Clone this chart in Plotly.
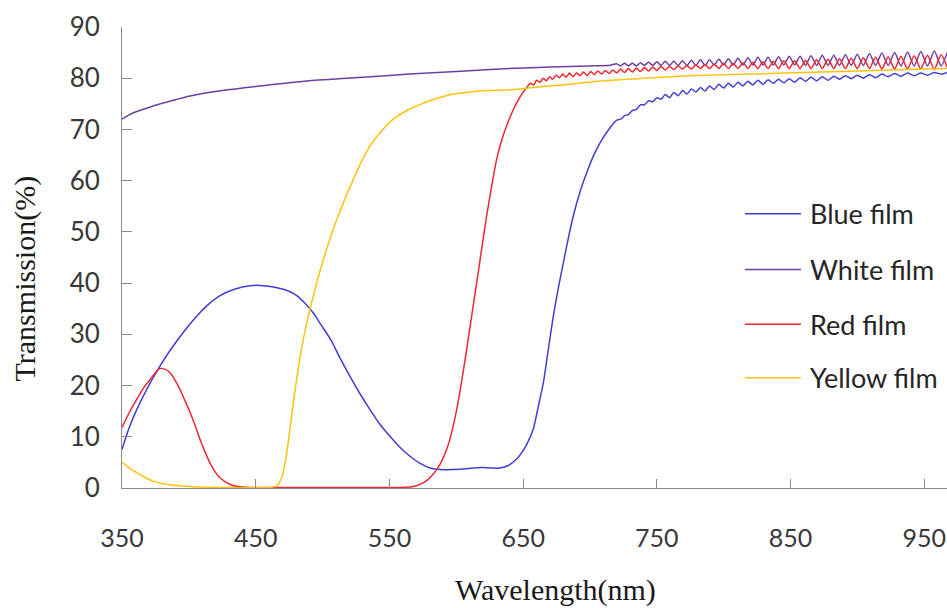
import plotly.graph_objects as go

# ---------------- data ----------------
# shared wavelength grid of the interference-fringe region (nm)
fringe_nm = [720.0, 722.9, 725.8, 728.7, 731.7, 734.7, 737.7, 740.7, 743.8, 746.9,
             750.0, 753.1, 756.3, 759.5, 762.7, 765.9, 769.2, 772.5, 775.8, 779.2,
             782.6, 786.0, 789.4, 792.9, 796.4, 799.9, 803.5, 807.1, 810.7, 814.4,
             818.1, 821.8, 825.6, 829.4, 833.2, 837.1, 841.0, 845.0, 849.0, 853.0,
             857.1, 861.2, 865.3, 869.5, 873.7, 878.0, 882.3, 886.6, 891.0, 895.4,
             899.9, 904.4, 909.0, 913.6, 918.3, 923.0, 927.8, 932.6, 937.5, 942.4,
             947.4, 952.4, 957.5, 962.6, 967.8]

# Blue film
blue_head_nm = [350, 355, 361, 370, 378.4, 385, 391, 398, 406, 414,
                423, 434, 446, 456, 466, 474, 481, 487, 493, 499,
                506, 513, 520.5, 528, 535.5, 543, 550.4, 558, 565.4, 573,
                580.4, 588, 598, 608, 615, 620, 626, 632.7, 639, 645,
                649, 652.7, 657.6, 661, 665.1, 668.8, 672.6, 676.3, 680.1, 683.8,
                687.5, 692.5, 697.6, 702.5, 707.5, 713.5]
blue_head_T = [7.5, 11.5, 15.3, 20.0, 23.8, 26.5, 28.7, 31.1, 33.6, 35.7,
               37.5, 38.8, 39.5, 39.5, 39.1, 38.5, 37.5, 36.0, 34.2, 31.8,
               29.0, 25.4, 21.8, 18.4, 15.3, 12.4, 10.1, 7.9, 6.2, 4.8,
               3.9, 3.6, 3.6, 3.75, 3.95, 4.0, 3.9, 3.9, 4.4, 5.6,
               6.9, 8.5, 11.5, 15.5, 20.5, 27.0, 33.6, 39.0, 44.0, 48.8,
               53.1, 57.8, 61.6, 64.8, 67.4, 69.8]
blue_tail_T = [71.8, 72.0, 72.7, 72.9, 73.7, 73.9, 74.8, 74.8, 75.6, 75.4,
               76.2, 75.9, 76.8, 76.2, 77.2, 76.6, 77.6, 76.9, 77.9, 77.3,
               78.2, 77.5, 78.5, 77.8, 78.8, 78.1, 79.0, 78.3, 79.2, 78.5,
               79.4, 78.7, 79.6, 78.8, 79.7, 79.0, 79.8, 79.1, 79.9, 79.2,
               80.1, 79.4, 80.2, 79.5, 80.3, 79.6, 80.4, 79.8, 80.5, 79.9,
               80.6, 80.0, 80.7, 80.1, 80.8, 80.3, 80.9, 80.4, 81.0, 80.5,
               81.0, 80.6, 81.1, 80.8, 81.2]

# White film
white_head_nm = [350, 355, 360, 370, 380, 390, 400, 425, 450, 490,
                 530, 565, 600, 632, 670, 700, 715]
white_head_T = [72.0, 72.8, 73.4, 74.3, 75.1, 75.8, 76.5, 77.6, 78.4, 79.5,
                80.2, 80.8, 81.3, 81.8, 82.2, 82.4, 82.55]
white_tail_T = [82.8, 82.4, 82.9, 82.4, 82.9, 82.4, 83.0, 82.5, 83.1, 82.5,
                83.2, 82.5, 83.3, 82.5, 83.3, 82.5, 83.4, 82.5, 83.5, 82.5,
                83.6, 82.5, 83.6, 82.6, 83.7, 82.6, 83.8, 82.6, 83.9, 82.6,
                84.0, 82.6, 84.1, 82.6, 84.1, 82.6, 84.2, 82.6, 84.3, 82.6,
                84.3, 82.5, 84.4, 82.5, 84.5, 82.5, 84.5, 82.5, 84.6, 82.5,
                84.7, 82.5, 84.8, 82.5, 84.9, 82.5, 85.0, 82.4, 85.1, 82.4,
                85.2, 82.4, 85.3, 82.4, 85.4]

# Red film
red_head_nm = [350, 355, 361, 366, 371, 378, 382, 386, 390, 393.4,
               397, 401, 405, 408.3, 412, 415.8, 419.5, 423.3, 428, 433,
               440, 446, 480, 520, 550, 562, 568, 573, 578, 582,
               585.4, 589, 592.8, 596.5,
               600.3, 604, 607.8, 611.5, 615.3, 619, 622.7, 626.5, 630.2, 634,
               637.7, 641.5, 645.2, 649, 652.7,
               655.5, 657.8, 660.1, 662.5, 664.9, 667.3, 669.7, 672.1, 674.6, 677.1,
               679.6, 682.1, 684.7, 687.3, 689.9, 692.5, 695.1, 697.8, 700.5, 703.2,
               705.9, 708.7, 711.5, 714.3, 717.1]
red_head_T = [11.8, 14.5, 17.3, 19.5, 21.2, 23.3, 23.2, 22.5, 20.9, 19.2,
              17.1, 14.7, 12.0, 9.5, 7.1, 4.9, 3.2, 2.0, 1.1, 0.5,
              0.2, 0.1, 0.1, 0.1, 0.1, 0.15, 0.3, 0.7, 1.5, 2.5,
              3.6, 5.2, 7.5, 10.8,
              15.3, 20.8, 27.1, 33.6, 40.1, 46.7, 53.1, 59.0, 64.2, 67.9,
              70.7, 73.2, 75.2, 76.9, 78.2,
              79.0, 78.7, 79.6, 79.2, 80.0, 79.5, 80.3, 79.8, 80.6, 80.1,
              80.8, 80.2, 81.0, 80.3, 81.0, 80.5, 81.2, 80.5, 81.3, 80.7,
              81.4, 80.8, 81.5, 80.9, 81.6]
red_tail_T = [81.0, 81.8, 81.1, 81.9, 81.2, 82.0, 81.3, 82.1, 81.4, 82.2,
              81.5, 82.3, 81.6, 82.3, 81.7, 82.4, 81.8, 82.5, 81.8, 82.6,
              81.9, 82.7, 81.9, 82.8, 81.9, 82.9, 81.9, 82.9, 81.9, 83.0,
              81.9, 83.1, 81.9, 83.2, 81.9, 83.3, 81.9, 83.4, 81.9, 83.4,
              81.9, 83.5, 81.9, 83.6, 81.9, 83.7, 81.9, 83.8, 81.9, 83.9,
              81.9, 84.0, 81.9, 84.1, 81.8, 84.2, 81.8, 84.3, 81.8, 84.4,
              81.8, 84.5, 81.7, 84.6, 81.7]

# Yellow film
yellow_nm = [350, 355, 361, 367, 373.5, 380, 391, 400, 416, 430,
             460, 465.7, 468, 470.6, 473, 475.6, 478, 480.6, 483, 485.6,
             489, 493.1, 496.8, 500.6, 505.6, 510.6, 516.8, 523.1, 529.3, 535.5,
             544, 553, 563, 573, 585, 597.8, 610, 622.7, 635, 647.7,
             657.6, 680, 710, 740, 767.4, 790, 820, 860, 900, 940,
             967.8]
yellow_T = [5.0, 4.0, 3.0, 2.1, 1.3, 0.9, 0.5, 0.3, 0.15, 0.1,
            0.1, 0.35, 1.2, 3.0, 6.5, 11.4, 16.4, 21.2, 25.3, 29.0,
            33.2, 37.5, 41.2, 44.6, 48.7, 52.4, 56.5, 60.3, 63.8, 66.8,
            69.7, 72.0, 73.7, 74.9, 76.0, 76.9, 77.3, 77.6, 77.7, 77.9,
            78.2, 78.7, 79.5, 80.0, 80.4, 80.6, 80.8, 81.1, 81.4, 81.7,
            81.9]

series_names = ["Blue film", "White film", "Red film", "Yellow film"]
x_ticks = [350, 450, 550, 650, 750, 850, 950]
y_ticks = [0, 10, 20, 30, 40, 50, 60, 70, 80, 90]

# ---------------- figure ----------------
colors = {"Blue film": "#3F3FD6", "White film": "#6E3FA3",
          "Red film": "#F02630", "Yellow film": "#FFC20E"}

xs = {"Blue film": blue_head_nm + fringe_nm,
      "White film": white_head_nm + fringe_nm,
      "Red film": red_head_nm + fringe_nm,
      "Yellow film": yellow_nm}
ys = {"Blue film": blue_head_T + blue_tail_T,
      "White film": white_head_T + white_tail_T,
      "Red film": red_head_T + red_tail_T,
      "Yellow film": yellow_T}

fig = go.Figure()
for name in series_names:
    fig.add_trace(go.Scatter(
        x=xs[name], y=ys[name], mode="lines", name=name, showlegend=False,
        line=dict(color=colors[name], width=1.5, shape="spline", smoothing=0.6),
        hoverinfo="skip"))

axis_col = "#8a8a8a"
sans = "Lato, 'Open Sans', sans-serif"

fig.update_layout(
    width=947, height=608,
    margin=dict(l=122, r=0, t=27, b=120),
    paper_bgcolor="white", plot_bgcolor="white",
    xaxis=dict(range=[350, 967], tickvals=x_ticks, ticktext=[str(v) for v in x_ticks],
               showline=True, linecolor=axis_col, linewidth=1, mirror=False,
               ticks="inside", ticklen=9, tickcolor=axis_col, tickwidth=1,
               showgrid=False, zeroline=False,
               tickfont=dict(family=sans, size=25, color="#383838"),
               ticklabelstandoff=28, fixedrange=True),
    yaxis=dict(range=[0, 90], tickvals=y_ticks, ticktext=[str(v) for v in y_ticks],
               showline=True, linecolor=axis_col, linewidth=1,
               ticks="inside", ticklen=10, tickcolor=axis_col, tickwidth=1,
               showgrid=False, zeroline=False,
               tickfont=dict(family=sans, size=26, color="#383838"),
               ticklabelstandoff=16, fixedrange=True),
)

# manual legend (long line samples like the reference)
legend_y = [0.595, 0.474, 0.355, 0.239]
for name, ly in zip(series_names, legend_y):
    fig.add_shape(type="line", xref="paper", yref="paper",
                  x0=0.755, x1=0.823, y0=ly, y1=ly,
                  line=dict(color=colors[name], width=1.5))
    fig.add_annotation(x=0.831, y=ly, xref="paper", yref="paper",
                       text=name, showarrow=False, xanchor="left", yanchor="middle",
                       font=dict(family=sans, size=27, color="#262626"))

# axis titles
title_font = dict(family="'Liberation Serif', 'Times New Roman', serif", size=30, color="#1a1a1a")
fig.add_annotation(x=-0.1176, y=0.4545, xref="paper", yref="paper",
                   text="Transmission(%)", textangle=-90, showarrow=False,
                   xanchor="center", yanchor="middle", font=title_font)
fig.add_annotation(x=0.525, y=-0.222, xref="paper", yref="paper",
                   text="Wavelength(nm)", showarrow=False,
                   xanchor="center", yanchor="middle", font=title_font)

fig.write_html("out.html")
